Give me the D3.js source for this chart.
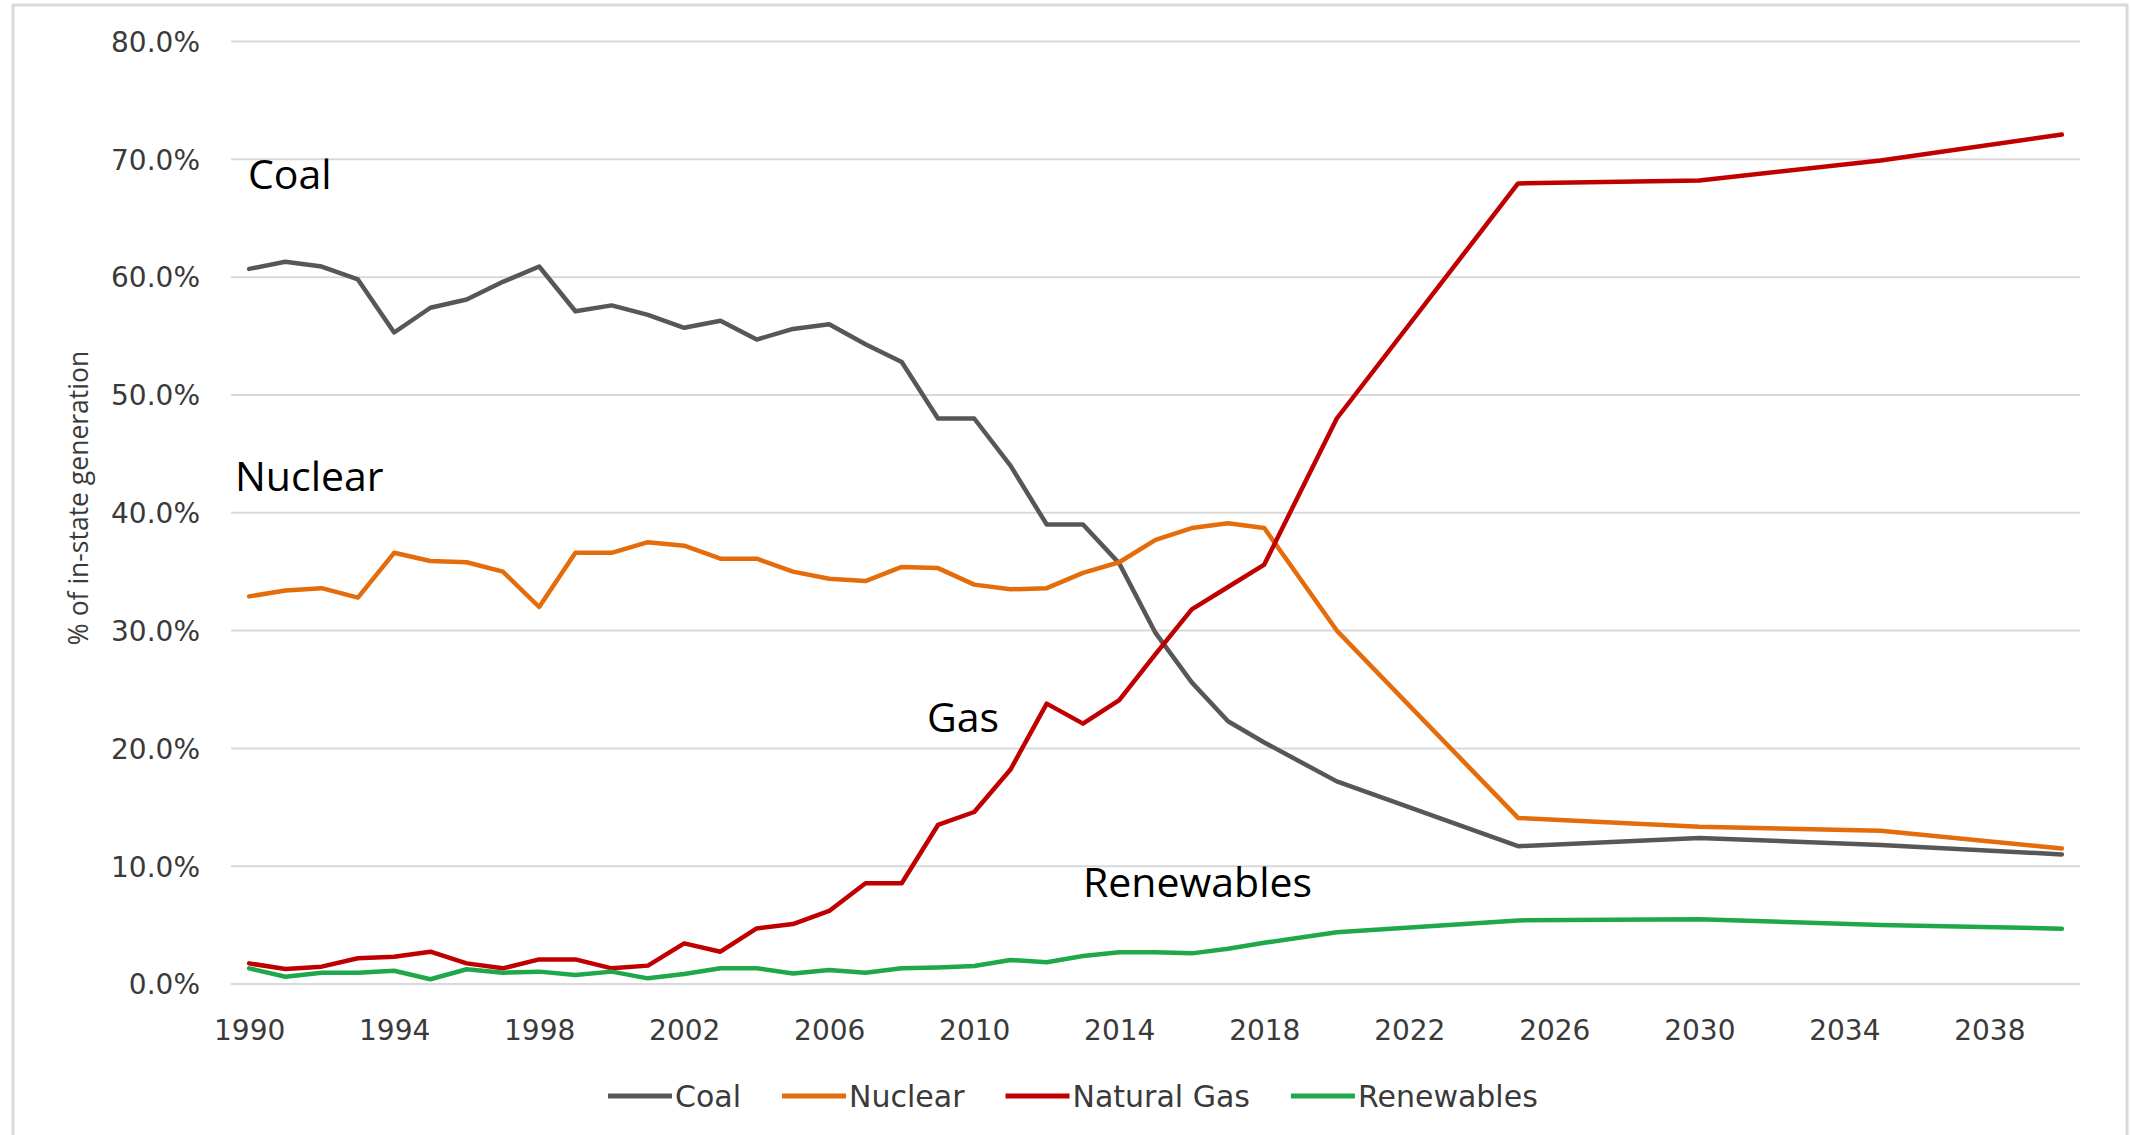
<!DOCTYPE html>
<html>
<head>
<meta charset="utf-8">
<script src="https://cdn.jsdelivr.net/npm/d3@7"></script>
<style>
  html, body { margin: 0; padding: 0; background: #ffffff; }
  svg { display: block; }
</style>
</head>
<body>
<svg id="chart" width="2131" height="1135"></svg>
<script>
// ---------------- DATA ----------------
const years = [1990,1991,1992,1993,1994,1995,1996,1997,1998,1999,
               2000,2001,2002,2003,2004,2005,2006,2007,2008,2009,
               2010,2011,2012,2013,2014,2015,2016,2017,2018,
               2020,2025,2030,2035,2040];

const coal = [60.7,61.3,60.9,59.8,55.3,57.4,58.1,59.6,60.9,57.1,
              57.6,56.8,55.7,56.3,54.7,55.6,56.0,54.3,52.8,48.0,
              48.0,44.0,39.0,39.0,35.7,29.8,25.6,22.3,20.5,
              17.2,11.7,12.4,11.8,11.0];

const nuclear = [32.9,33.4,33.6,32.8,36.6,35.9,35.8,35.0,32.0,36.6,
                 36.6,37.5,37.2,36.1,36.1,35.0,34.4,34.2,35.4,35.3,
                 33.9,33.5,33.6,34.9,35.8,37.7,38.7,39.1,38.7,
                 30.0,14.1,13.35,13.0,11.5];

const naturalGas = [1.75,1.27,1.47,2.18,2.32,2.74,1.75,1.33,2.09,2.09,
                    1.33,1.56,3.45,2.74,4.72,5.09,6.2,8.55,8.55,13.5,
                    14.6,18.2,23.8,22.1,24.1,28.0,31.8,33.7,35.6,
                    48.0,67.95,68.2,69.9,72.1];

const renewables = [1.33,0.62,0.96,0.96,1.13,0.4,1.25,0.96,1.05,0.76,
                    1.05,0.48,0.85,1.33,1.33,0.9,1.19,0.96,1.33,1.41,
                    1.53,2.04,1.84,2.38,2.69,2.69,2.6,3.0,3.5,
                    4.4,5.4,5.5,5.0,4.7];

const seriesNames = ["Coal","Nuclear","Natural Gas","Renewables"];
const seriesColors = ["#575757","#E46C0A","#C00000","#1FA84A"];
const yTicks = [0,10,20,30,40,50,60,70,80];
const xTickYears = [1990,1994,1998,2002,2006,2010,2014,2018,2022,2026,2030,2034,2038];
const annotations = ["Coal","Nuclear","Gas","Renewables"];
const yAxisTitle = "% of in-state generation";

// ---------------- CHART ----------------
const svg = d3.select("#chart");
const W = 2131, H = 1135;

svg.append("rect").attr("x",0).attr("y",0).attr("width",W).attr("height",H).attr("fill","#fff");
// outer frame
svg.append("rect")
  .attr("x",13).attr("y",5).attr("width",2114).attr("height",1150)
  .attr("fill","none").attr("stroke","#d9d9d9").attr("stroke-width",3);

const plotLeft = 231, plotRight = 2080;
const x = d3.scaleLinear().domain([1989.5, 2040.5]).range([plotLeft, plotRight]);
const y = d3.scaleLinear().domain([0, 80]).range([984, 41.5]);

// gridlines
svg.append("g").selectAll("line").data(yTicks).join("line")
  .attr("x1", plotLeft).attr("x2", plotRight)
  .attr("y1", d => y(d)).attr("y2", d => y(d))
  .attr("stroke", "#d9d9d9").attr("stroke-width", 2);

// y axis labels
const yAxis = d3.axisLeft(y).tickValues(yTicks).tickSize(0).tickPadding(0)
  .tickFormat(d => d.toFixed(1) + "%");
const yg = svg.append("g").attr("transform", "translate(200,0)").call(yAxis);
yg.select(".domain").remove();
yg.selectAll("text")
  .attr("font-family", "DejaVu Sans, Verdana, sans-serif")
  .attr("font-size", 28).attr("fill", "#3a3a3a").attr("dy", "0.35em");

// x axis labels
const xAxis = d3.axisBottom(x).tickValues(xTickYears).tickSize(0).tickPadding(0)
  .tickFormat(d => String(d));
const xg = svg.append("g").attr("transform", "translate(0,1019)").call(xAxis);
xg.select(".domain").remove();
xg.selectAll("text")
  .attr("font-family", "DejaVu Sans, Verdana, sans-serif")
  .attr("font-size", 28).attr("fill", "#3a3a3a").attr("dy", "0.75em");

// y-axis title
svg.append("text")
  .attr("transform", "translate(88,498) rotate(-90)")
  .attr("text-anchor", "middle")
  .attr("font-family", "Open Sans, sans-serif")
  .attr("font-size", 26.5).attr("fill", "#3a3a3a")
  .text(yAxisTitle);

// lines
const allSeries = [coal, nuclear, naturalGas, renewables];
const line = d3.line()
  .x((d, i) => x(years[i]))
  .y(d => y(d))
  .curve(d3.curveLinear);

svg.append("g").selectAll("path").data(allSeries).join("path")
  .attr("d", d => line(d))
  .attr("fill", "none")
  .attr("stroke", (d, i) => seriesColors[i])
  .attr("stroke-width", 4.5)
  .attr("stroke-linejoin", "round")
  .attr("stroke-linecap", "round");

// annotations
const annotPos = [[248,189],[235,491],[927,732],[1083,897]];
svg.append("g").selectAll("text").data(annotations).join("text")
  .attr("x", (d, i) => annotPos[i][0])
  .attr("y", (d, i) => annotPos[i][1])
  .attr("font-family", "Open Sans, sans-serif")
  .attr("font-size", 41).attr("fill", "#000")
  .text(d => d);

// legend
const legend = svg.append("g");
let lx = 608;
const ly = 1096;
seriesNames.forEach((name, i) => {
  legend.append("line")
    .attr("x1", lx).attr("x2", lx + 64).attr("y1", ly).attr("y2", ly)
    .attr("stroke", seriesColors[i]).attr("stroke-width", 5);
  const t = legend.append("text")
    .attr("x", lx + 67).attr("y", ly).attr("dy", "0.35em")
    .attr("font-family", "DejaVu Sans, Verdana, sans-serif")
    .attr("font-size", 30).attr("fill", "#3a3a3a")
    .text(name);
  lx = lx + 67 + t.node().getComputedTextLength() + 41;
});
</script>
</body>
</html>
